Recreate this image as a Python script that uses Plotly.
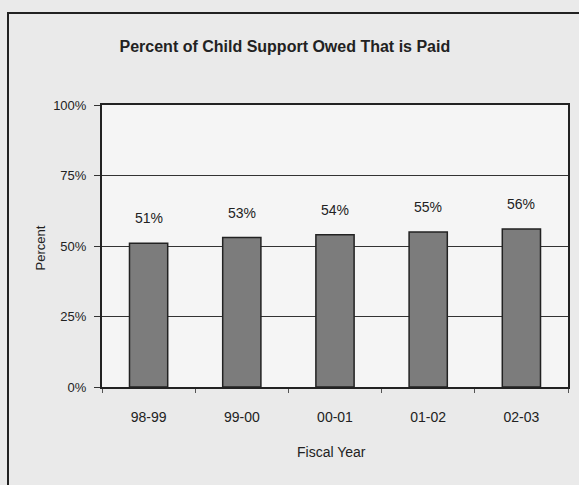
import plotly.graph_objects as go

categories = ["98-99", "99-00", "00-01", "01-02", "02-03"]
values = [51, 53, 54, 55, 56]
labels = ["51%", "53%", "54%", "55%", "56%"]
y_ticks = [0, 25, 50, 75, 100]
y_tick_text = ["0%", "25%", "50%", "75%", "100%"]

font_family = "Liberation Sans Narrow, Arial Narrow, Liberation Sans, Arial"
L, R, T, B = 102, 11, 105, 98
PW, PH = 579 - L - R, 485 - T - B

def px_x(x):
    return (x - L) / PW

def px_y(y):
    return (485 - B - y) / PH

fig = go.Figure()
fig.add_trace(go.Bar(
    x=categories, y=values, width=0.41,
    marker=dict(color="#7c7c7c", line=dict(color="#222222", width=1.5)),
    showlegend=False,
))
for c, v, t in zip(categories, values, labels):
    fig.add_annotation(x=c, y=v, text=t, showarrow=False, yshift=25,
                       font=dict(size=14, color="#222222", family=font_family))

fig.add_annotation(xref="paper", yref="paper", x=px_x(30), y=px_y(248),
                   text="Percent", textangle=-90, showarrow=False,
                   font=dict(size=13, color="#222222", family=font_family))
fig.add_annotation(xref="paper", yref="paper", x=px_x(331), y=px_y(462),
                   text="Fiscal Year", showarrow=False,
                   font=dict(size=14, color="#222222", family=font_family))

fig.update_layout(
    width=579, height=485,
    margin=dict(l=L, r=R, t=T, b=B),
    paper_bgcolor="#eaeaea", plot_bgcolor="#f5f5f5",
    font=dict(family=font_family, color="#222222", size=13),
    title=dict(text="<b>Percent of Child Support Owed That is Paid</b>",
               x=0.492, xanchor="center", y=1 - 46 / 485, yanchor="middle",
               font=dict(size=16, family=font_family)),
)
fig.update_yaxes(range=[0, 100], tickvals=y_ticks, ticktext=y_tick_text,
                 showgrid=True, gridcolor="#333333", gridwidth=1,
                 showline=True, linecolor="#222222", linewidth=2, mirror=True,
                 ticks="outside", ticklen=6, tickcolor="#333333",
                 ticklabelstandoff=5, automargin=False,
                 tickfont=dict(size=13), zeroline=False)
fig.update_xaxes(type="category", showline=True, linecolor="#222222", linewidth=2, mirror=True,
                 ticks="outside", tickson="boundaries", ticklen=4, tickcolor="#555555",
                 ticklabelstandoff=16, automargin=False, tickfont=dict(size=14))

fig.add_shape(type="rect", xref="paper", yref="paper",
              x0=px_x(8), x1=px_x(620), y0=px_y(600), y1=px_y(13),
              line=dict(color="#222222", width=2), fillcolor="rgba(0,0,0,0)", layer="below")

fig.write_html("out.html", config={"displayModeBar": False},
               post_script="document.body.style.margin='0';document.body.style.overflow='hidden';")
